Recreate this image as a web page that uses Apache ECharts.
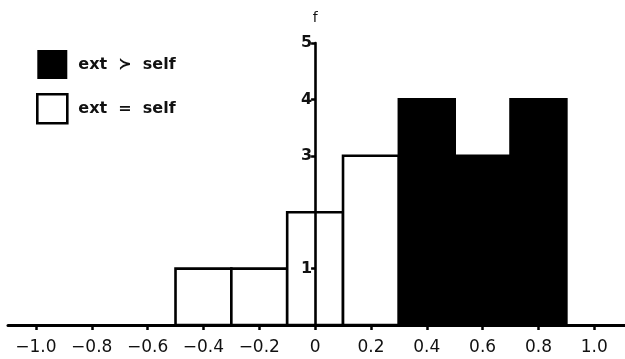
<!DOCTYPE html>
<html>
<head>
<meta charset="utf-8">
<script src="https://cdn.jsdelivr.net/npm/echarts@6/dist/echarts.min.js"></script>
<style>
html,body{margin:0;padding:0;background:#fff;}
#chart{width:625px;height:359px;}
</style>
</head>
<body>
<div id="chart"></div>
<script>
const seriesNames = ['ext  \u227B  self', 'ext  =  self'];
const greaterBinStart = [0.3, 0.5, 0.7];
const greaterBinEnd = [0.5, 0.7, 0.9];
const greaterFreq = [4, 3, 4];
const equalBinStart = [-0.5, -0.3, -0.1, 0.1];
const equalBinEnd = [-0.3, -0.1, 0.1, 0.3];
const equalFreq = [1, 1, 2, 3];
const xTickValues = [-1.0, -0.8, -0.6, -0.4, -0.2, 0, 0.2, 0.4, 0.6, 0.8, 1.0];
const xTickLabels = ['\u22121.0', '\u22120.8', '\u22120.6', '\u22120.4', '\u22120.2', '0', '0.2', '0.4', '0.6', '0.8', '1.0'];
const yTickValues = [1, 3, 4, 5];
const yTickLabels = ['1', '3', '4', '5'];
const yAxisName = 'f';

const font = 'DejaVu Sans, Liberation Sans, sans-serif';
const X_MIN = -1.1, X_MAX = 1.11;
const GRID_LEFT = 8, GRID_RIGHT = 0, W = 625;

function toData(starts, ends, freqs) {
  return starts.map((s, i) => [s, ends[i], freqs[i]]);
}

function renderBin(fill) {
  return function (params, api) {
    const p0 = api.coord([api.value(0), api.value(2)]);
    const p1 = api.coord([api.value(1), 0]);
    return {
      type: 'rect',
      shape: { x: p0[0], y: p0[1], width: p1[0] - p0[0], height: p1[1] - p0[1] },
      style: { fill: fill, stroke: '#000', lineWidth: 2.6 }
    };
  };
}

// offset that places the y axis at x = 0 of the value x-axis
const gridW = W - GRID_LEFT - GRID_RIGHT;
const yAxisOffset = -((0 - X_MIN) / (X_MAX - X_MIN) * gridW);

const chart = echarts.init(document.getElementById('chart'), null, { renderer: 'canvas' });
chart.setOption({
  animation: false,
  backgroundColor: '#fff',
  grid: { left: GRID_LEFT, right: GRID_RIGHT, top: 43, bottom: 34, containLabel: false },
  legend: {
    orient: 'vertical',
    left: 36,
    top: 50,
    padding: 0,
    itemWidth: 30,
    itemHeight: 29,
    itemGap: 14,
    icon: 'rect',
    textStyle: { fontFamily: font, fontSize: 16, fontWeight: 'bold', color: '#111', padding: [0, 0, 0, 6] },
    data: [
      { name: seriesNames[0], itemStyle: { color: '#000', borderColor: '#000', borderWidth: 0 } },
      { name: seriesNames[1], itemStyle: { color: '#fff', borderColor: '#000', borderWidth: 2.6 } }
    ]
  },
  xAxis: {
    type: 'value',
    min: X_MIN,
    max: X_MAX,
    splitLine: { show: false },
    axisLine: { show: true, onZero: true, lineStyle: { color: '#000', width: 3 } },
    axisTick: { show: true, customValues: xTickValues, length: 5, lineStyle: { color: '#000', width: 2.5 } },
    axisLabel: {
      customValues: xTickValues,
      margin: 14,
      fontFamily: font,
      fontSize: 17,
      color: '#111',
      formatter: function (v) {
        const i = xTickValues.findIndex(t => Math.abs(t - v) < 1e-6);
        return i >= 0 ? xTickLabels[i] : '';
      }
    }
  },
  yAxis: {
    type: 'value',
    min: 0,
    max: 5,
    z: 10,
    offset: yAxisOffset,
    name: yAxisName,
    nameLocation: 'end',
    nameGap: 18,
    nameTextStyle: { fontFamily: font, fontSize: 14, color: '#111' },
    splitLine: { show: false },
    axisLine: { show: true, onZero: false, lineStyle: { color: '#000', width: 2.6 } },
    axisTick: { show: true, customValues: yTickValues, length: 4, lineStyle: { color: '#000', width: 2.5 } },
    axisLabel: {
      customValues: yTickValues,
      margin: 3,
      fontFamily: font,
      fontSize: 16,
      fontWeight: 'bold',
      color: '#111',
      formatter: function (v) {
        const i = yTickValues.indexOf(v);
        return i >= 0 ? yTickLabels[i] : '';
      }
    }
  },
  series: [
    {
      name: seriesNames[0],
      type: 'custom',
      z: 2,
      itemStyle: { color: '#000' },
      renderItem: renderBin('#000'),
      encode: { x: [0, 1], y: 2 },
      data: toData(greaterBinStart, greaterBinEnd, greaterFreq)
    },
    {
      name: seriesNames[1],
      type: 'custom',
      z: 1,
      itemStyle: { color: '#fff', borderColor: '#000', borderWidth: 2.6 },
      renderItem: renderBin('#fff'),
      encode: { x: [0, 1], y: 2 },
      data: toData(equalBinStart, equalBinEnd, equalFreq)
    }
  ]
});
</script>
</body>
</html>
